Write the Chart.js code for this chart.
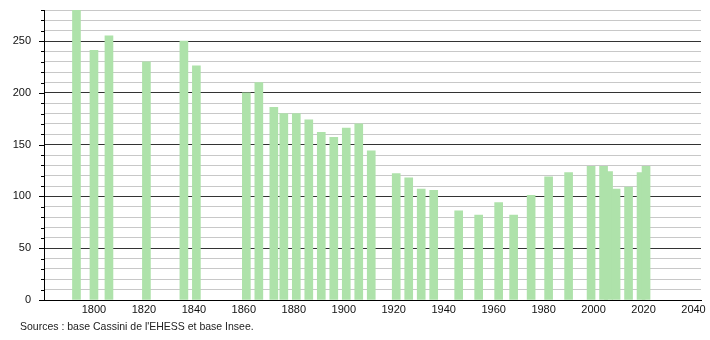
<!DOCTYPE html>
<html>
<head>
<meta charset="utf-8">
<script src="https://cdn.jsdelivr.net/npm/chart.js@4"></script>
<style>
  body { margin: 0; background: #fff; }
  #wrap { position: relative; width: 710px; height: 340px; }
  #source { position: absolute; left: 20px; top: 320px; font: 10.5px "Liberation Sans", Arial, sans-serif; color: #222; white-space: nowrap; }
</style>
</head>
<body>
<div id="wrap">
  <canvas id="chart" width="710" height="340"></canvas>
  <div id="source">Sources : base Cassini de l'EHESS et base Insee.</div>
</div>
<script>
// census years and population
const years = [1793, 1800, 1806, 1821, 1836, 1841, 1861, 1866, 1872, 1876, 1881, 1886, 1891, 1896, 1901, 1906, 1911,
  1921, 1926, 1931, 1936, 1946, 1954, 1962, 1968, 1975, 1982, 1990, 1999, 2004, 2006, 2009, 2014, 2019, 2021];
const population = [285, 241, 255, 230, 250, 226, 200, 210, 186, 180, 180, 174, 162, 157, 166, 170, 144,
  122, 118, 107, 106, 86, 82, 94, 82, 101, 119, 123, 129, 129, 124, 107, 109, 123, 129];
const xTicks = [1800, 1820, 1840, 1860, 1880, 1900, 1920, 1940, 1960, 1980, 2000, 2020, 2040];
const yTicks = [0, 50, 100, 150, 200, 250];

const font = { family: '"Liberation Sans", Arial, sans-serif', size: 11 };

// short tick marks left of the y axis, longer on the labelled values
const tickMarks = {
  id: 'tickMarks',
  afterDraw(chart) {
    const { ctx, scales: { y } } = chart;
    ctx.save();
    ctx.strokeStyle = '#000';
    ctx.lineWidth = 1;
    y.ticks.forEach(t => {
      const py = Math.round(y.getPixelForValue(t.value)) + 0.5;
      const len = yTicks.includes(t.value) ? 5 : 3;
      ctx.beginPath();
      ctx.moveTo(y.right - len, py);
      ctx.lineTo(y.right, py);
      ctx.stroke();
    });
    ctx.restore();
  }
};

new Chart(document.getElementById('chart'), {
  type: 'bar',
  data: {
    datasets: [{
      data: years.map((yr, i) => ({ x: yr, y: population[i] })),
      backgroundColor: 'rgb(174, 226, 170)',
      borderWidth: 0,
      barThickness: 8
    }]
  },
  options: {
    responsive: false,
    devicePixelRatio: 1,
    animation: false,
    layout: { autoPadding: false, padding: { left: 0, right: 9, top: 10, bottom: 0 } },
    plugins: { legend: { display: false }, tooltip: { enabled: false } },
    scales: {
      x: {
        type: 'linear',
        offset: false,
        min: 1780,
        max: 2043,
        afterFit: s => { s.height = 40; s.paddingLeft = 0; s.paddingRight = 0; },
        afterBuildTicks: s => { s.ticks = xTicks.map(v => ({ value: v })); },
        grid: { display: false, drawTicks: false, offset: false },
        border: { color: '#000', width: 1 },
        ticks: { font, color: '#111', padding: 3, autoSkip: false, maxRotation: 0, callback: v => String(v) }
      },
      y: {
        min: 0,
        max: 280,
        afterFit: s => { s.width = 44; s.paddingTop = 0; s.paddingBottom = 0; },
        grid: {
          drawTicks: false,
          color: c => (yTicks.includes(c.tick.value) ? '#333' : '#c8c8c8'),
          lineWidth: 1
        },
        border: { color: '#000', width: 1 },
        ticks: {
          stepSize: 10,
          autoSkip: false,
          font,
          color: '#111',
          padding: 13,
          callback: v => (yTicks.includes(v) ? v : '')
        }
      }
    }
  },
  plugins: [tickMarks]
});
</script>
</body>
</html>
